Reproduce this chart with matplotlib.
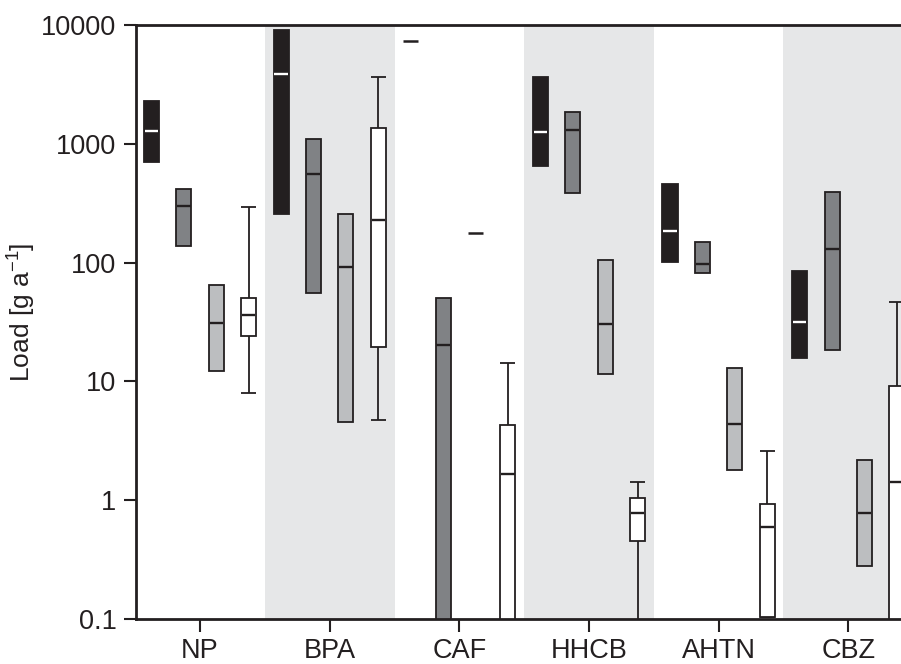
import numpy as np
import matplotlib
matplotlib.use("Agg")
import matplotlib.pyplot as plt

plt.rcParams['font.family'] = ['Liberation Sans', 'DejaVu Sans']
plt.rcParams['mathtext.default'] = 'regular'

# compounds on the x axis
compounds = ["NP", "BPA", "CAF", "HHCB", "AHTN", "CBZ"]

# box statistics per series (g/a)
# black series
black_q1 = [699, 256, 7380, 650, 100.5, 15.8]
black_med = [1282, 3870, 7380, 1250, 186, 31.8]
black_q3 = [2291, 9080, 7380, 3670, 456, 85]

# dark grey series
dark_q1 = [137, 55.5, 0.05, 388, 81.3, 18.4]
dark_med = [301, 560, 20.2, 1306, 96.6, 130]
dark_q3 = [419, 1104, 50, 1862, 150, 391]

# light grey series
light_q1 = [12.3, 4.52, 177, 11.5, 1.78, 0.279]
light_med = [30.8, 92.4, 177, 30.4, 4.40, 0.774]
light_q3 = [64.4, 258, 177, 106, 12.9, 2.18]

# white series, with whiskers
white_q1 = [24.3, 19.5, 0.05, 0.454, 0.103, 0.05]
white_med = [36, 230, 1.65, 0.774, 0.594, 1.41]
white_q3 = [50.7, 1367, 4.27, 1.04, 0.929, 9.15]
white_lo = [7.94, 4.73, 0.05, 0.05, 0.103, 0.05]
white_hi = [292, 3630, 14.3, 1.42, 2.61, 46.9]

dark = "#231f20"
series = [
    (black_q1, black_med, black_q3, "#231f20", "white"),
    (dark_q1, dark_med, dark_q3, "#808285", dark),
    (light_q1, light_med, light_q3, "#bcbec0", dark),
    (white_q1, white_med, white_q3, "white", dark),
]
offsets = [-0.375, -0.125, 0.125, 0.375]
width = 0.116

fig = plt.figure(figsize=(9.01, 6.64), dpi=100)
ax = fig.add_axes([136 / 901, 45 / 664, 765 / 901, 594 / 664])

x = np.arange(len(compounds))

# shaded bands behind every second compound
for i in x[1::2]:
    ax.axvspan(i - 0.5, i + 0.5, color="#e6e7e8", lw=0, zorder=0)

# whiskers of the white series
for i in x:
    xp = i + offsets[3]
    ax.vlines(xp, white_lo[i], white_hi[i], color=dark, lw=1.3, zorder=2)
    ax.hlines([white_lo[i], white_hi[i]], xp - width / 2, xp + width / 2,
              color=dark, lw=1.3, zorder=2)

for (q1, med, q3, fc, mc), off in zip(series, offsets):
    for i in x:
        xp = i + off
        if q3[i] > q1[i]:
            ax.bar(xp, q3[i] - q1[i], bottom=q1[i], width=width,
                   color=fc, edgecolor=dark, lw=1.3, zorder=3)
            ax.hlines(med[i], xp - width / 2 + 0.006, xp + width / 2 - 0.006,
                      color=mc, lw=1.7, zorder=4)
        else:
            # single value: just a short line
            ax.hlines(med[i], xp - width / 2, xp + width / 2,
                      color=dark, lw=1.8, zorder=4)

ax.set_yscale("log")
ax.set_ylim(0.1, 10000)
ax.set_xlim(-0.494, 5.407)

yt = [0.1, 1, 10, 100, 1000, 10000]
ax.set_yticks(yt)
ax.set_yticklabels(["0.1", "1", "10", "100", "1000", "10000"])
ax.yaxis.set_minor_locator(matplotlib.ticker.NullLocator())
ax.set_xticks(x)
ax.set_xticklabels(compounds)
ax.tick_params(axis="both", direction="out", length=9, width=1.5,
               labelsize=19.5, color=dark, labelcolor=dark, pad=5)
ax.tick_params(axis="x", pad=4.5)

for s in ["left", "bottom", "top"]:
    ax.spines[s].set_linewidth(2)
    ax.spines[s].set_color(dark)
    ax.spines[s].set_zorder(5)
ax.spines["right"].set_visible(False)

ax.set_ylabel(r"Load [g a$^{\mathregular{-1}}$]", fontsize=19, color=dark)
ax.yaxis.set_label_coords(-0.128, 0.517)

fig.savefig("out.png", dpi=100)
